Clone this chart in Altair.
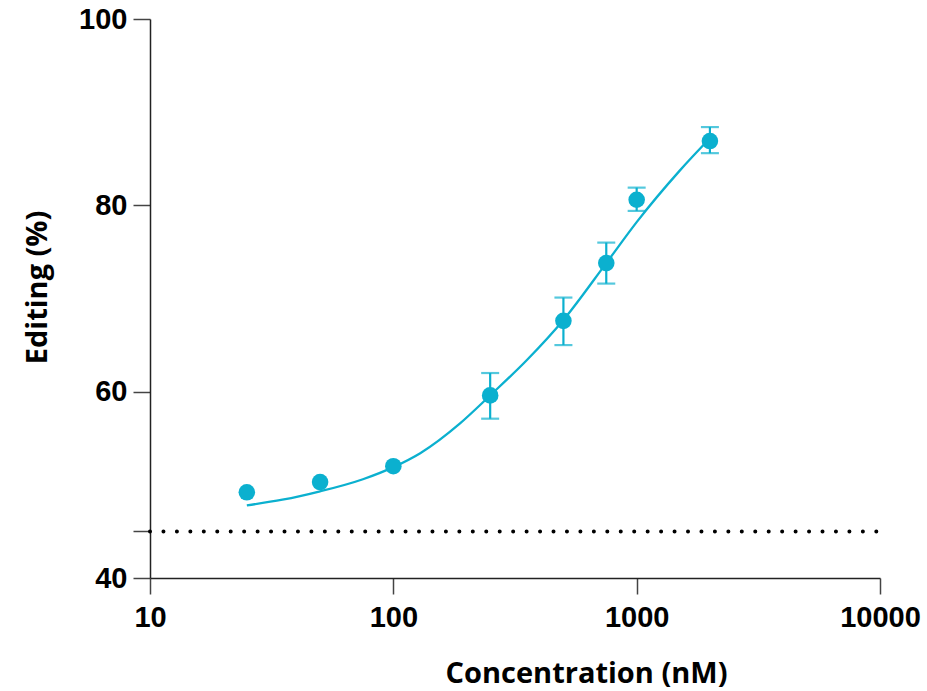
import altair as alt
import pandas as pd

# measured points
conc = [25, 50, 100, 250, 500, 750, 1000, 2000]
editing = [49.2, 50.3, 52.0, 59.6, 67.6, 73.8, 80.6, 86.9]
err_conc = [250, 500, 750, 1000, 2000]
err_low = [57.1, 65.0, 71.6, 79.4, 85.6]
err_high = [62.0, 70.1, 76.0, 81.9, 88.4]

# fitted curve
fit_conc = [25, 35, 50, 75, 100, 129, 188, 250, 354, 500, 750, 1000, 1500, 2000]
fit_edit = [47.8, 48.4, 49.3, 50.6, 51.9, 53.4, 56.6, 59.6, 63.4, 67.7, 73.8, 78.2, 83.7, 87.2]

# baseline (dotted)
base_x = [10, 10000]
base_y = [45, 45]

x_ticks = [10, 100, 1000, 10000]
y_ticks = [40, 45, 60, 80, 100]

COLOR = "#0BB0CF"
LABEL_FONT = "Liberation Sans"
TITLE_FONT = "Open Sans"

pts = pd.DataFrame({"conc": conc, "editing": editing})
errs = pd.DataFrame({"conc": err_conc, "lo": err_low, "hi": err_high})
fit = pd.DataFrame({"conc": fit_conc, "editing": fit_edit})
base = pd.DataFrame({"conc": base_x, "editing": base_y})

xscale = alt.Scale(type="log", domain=[10, 10000])
yscale = alt.Scale(domain=[40, 100], nice=False, zero=False)

xaxis = alt.Axis(
    values=x_ticks, format="d", grid=False,
    domainColor="#222", domainWidth=1.5, tickColor="#444", tickWidth=1.5, tickSize=16,
    labelFont=LABEL_FONT, labelFontWeight="bold", labelFontSize=29, labelColor="black",
    labelPadding=9, labelFlush=False, labelOverlap=False,
    title="Concentration (nM)", titleFont=TITLE_FONT, titleFontWeight="bold",
    titleFontSize=29, titleColor="black", titleX=436, titleY=104,
    titleBaseline="alphabetic", titleAlign="center",
)
yaxis = alt.Axis(
    values=y_ticks, grid=False,
    labelExpr="datum.value == 45 ? '' : datum.label",
    domainColor="#222", domainWidth=1.5, tickColor="#444", tickWidth=1.5, tickSize=17,
    labelFont=LABEL_FONT, labelFontWeight="bold", labelFontSize=29, labelColor="black",
    labelPadding=6, labelFlush=False, labelOverlap=False,
    title="Editing (%)", titleFont=TITLE_FONT, titleFontWeight="bold",
    titleFontSize=29, titleColor="black", titleAngle=-90, titleX=-104, titleY=268,
    titleBaseline="alphabetic", titleAlign="center",
)

baseline = alt.Chart(base).mark_line(
    color="black", strokeWidth=4, strokeCap="round", strokeDash=[0.01, 13.44]
).encode(
    x=alt.X("conc:Q", scale=xscale, axis=xaxis),
    y=alt.Y("editing:Q", scale=yscale, axis=yaxis),
)

curve = alt.Chart(fit).mark_line(
    color=COLOR, strokeWidth=2.3, interpolate="monotone"
).encode(x=alt.X("conc:Q", scale=xscale), y=alt.Y("editing:Q", scale=yscale))

bars = alt.Chart(errs).mark_rule(color=COLOR, strokeWidth=2.2).encode(
    x=alt.X("conc:Q", scale=xscale), y=alt.Y("lo:Q", scale=yscale), y2="hi:Q"
)
cap_lo = alt.Chart(errs).mark_tick(color=COLOR, thickness=2.2, size=18, orient="horizontal").encode(
    x=alt.X("conc:Q", scale=xscale), y=alt.Y("lo:Q", scale=yscale)
)
cap_hi = alt.Chart(errs).mark_tick(color=COLOR, thickness=2.2, size=18, orient="horizontal").encode(
    x=alt.X("conc:Q", scale=xscale), y=alt.Y("hi:Q", scale=yscale)
)
dots = alt.Chart(pts).mark_circle(color=COLOR, opacity=1, size=275).encode(
    x=alt.X("conc:Q", scale=xscale), y=alt.Y("editing:Q", scale=yscale)
)

chart = alt.layer(baseline, curve, bars, cap_lo, cap_hi, dots).properties(
    width=730, height=559,
    background="white",
    autosize=alt.AutoSizeParams(type="none"),
    padding={"left": 150, "top": 19, "right": 47, "bottom": 113},
).configure_view(stroke=None)

chart.save("out.html", embed_options={"renderer": "svg", "actions": False})
